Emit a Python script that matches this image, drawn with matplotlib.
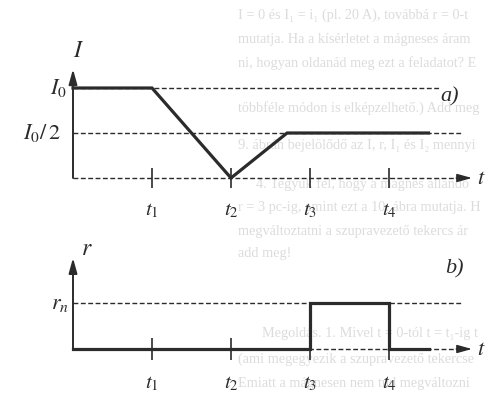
import matplotlib.pyplot as plt

plt.rcParams['mathtext.fontset'] = 'stix'

# time marks on both diagrams
t_marks = [1, 2, 3, 4]
t_labels = [r'$t_1$', r'$t_2$', r'$t_3$', r'$t_4$']

# a) current I(t), in units of I0
I_t = [0, 1, 2, 2.71, 4.5]
I_val = [1, 1, 0, 0.5, 0.5]
I_levels = [1, 0.5]
I_level_ends = [4.65, 4.94]

# b) resistance r(t), in units of r_n
r_t = [0, 3, 3, 4, 4, 4.5]
r_val = [0, 0, 1, 1, 0, 0]

# text of the page showing through from behind
page_lines = [
    "I = 0 és I₁ = i₁ (pl. 20 A), továbbá r = 0-t",
    "mutatja. Ha a kísérletet a mágneses áram",
    "ni, hogyan oldanád meg ezt a feladatot? E",
    "többféle módon is elképzelhető.) Add meg",
    "9. ábrán bejelölődő az I, r, I₁ és I₂ mennyi",
    "4. Tegyük fel, hogy a mágnes állandó",
    "r = 3 pc-ig, amint ezt a 10. ábra mutatja. H",
    "megváltoztatni a szupravezető tekercs ár",
    "add meg!",
    "Megoldás. 1. Mivel t = 0-tól t = t₁-ig t",
    "(ami megegyezik a szupravezető tekercse",
    "Emiatt a mágnesen nem tud megváltozni",
]
page_y = [15, 39, 63, 108, 146, 184, 208, 231, 254, 333, 359, 384]
page_x = [238, 238, 238, 238, 238, 256, 238, 238, 238, 262, 238, 238]

W, H = 488, 399
fig = plt.figure(figsize=(W / 100, H / 100), dpi=100)
fig.patch.set_facecolor('white')

for s, x, y in zip(page_lines, page_x, page_y):
    fig.text(x / W, 1 - y / H, s, fontsize=10.3, color='#dcdcdc', va='center',
             ha='left', family=['Liberation Serif', 'DejaVu Serif'], zorder=-5)

ink = '#2b2b2b'
dash = (0, (3.5, 1.8))
x0, ux = 73, 79


def band(top, bottom, zero, unit):
    ax = fig.add_axes([0, 1 - bottom / H, 1, (bottom - top) / H])
    ax.set_xlim(-x0 / ux, (W - x0) / ux)
    ax.set_ylim(-(bottom - zero) / unit, (zero - top) / unit)
    ax.axis('off')
    ax.patch.set_alpha(0)
    return ax


def arrow(ax, start, end, lw):
    ax.annotate('', xy=end, xytext=start,
                arrowprops=dict(arrowstyle='-|>,head_length=0.9,head_width=0.25',
                                color=ink, lw=lw, shrinkA=0, shrinkB=0))


serif = dict(color=ink, family=['Liberation Serif', 'DejaVu Serif'], style='italic')

# ---- a) ----
ax_a = band(0, 230, 178, 90)
ax_a.plot([0, 4.95], [0, 0], ls=dash, lw=1.0, color=ink)
arrow(ax_a, (4.85, 0), (5.05, 0), 1.0)
arrow(ax_a, (0, 0), (0, 1.21), 1.4)
for lvl, end in zip(I_levels, I_level_ends):
    ax_a.plot([0, end], [lvl, lvl], ls=dash, lw=1.0, color=ink)
ax_a.vlines(t_marks, -0.11, 0.11, color=ink, lw=1.2)
ax_a.plot(I_t, I_val, color=ink, lw=2.3, solid_joinstyle='miter', zorder=3)
for t, lab in zip(t_marks, t_labels):
    ax_a.text(t, -0.36, lab, fontsize=15, color=ink, ha='center', va='center')
ax_a.text(0.07, 1.42, r'$I$', fontsize=17, color=ink, ha='center', va='center')
ax_a.text(-0.19, 1.0, r'$I_0$', fontsize=16, color=ink, ha='center', va='center')
ax_a.text(-0.40, 0.5, r'$I_0/\,2$', fontsize=16, color=ink, ha='center', va='center')
ax_a.text(5.17, 0, r'$t$', fontsize=16, color=ink, ha='center', va='center')
ax_a.text(4.77, 0.9, 'a)', fontsize=16, ha='center', va='center', **serif)

# ---- b) ----
ax_b = band(230, 399, 349, 46)
ax_b.plot([0, 4.95], [0, 0], ls=dash, lw=1.0, color=ink)
arrow(ax_b, (4.85, 0), (5.05, 0), 1.0)
arrow(ax_b, (0, 0), (0, 1.98), 1.4)
ax_b.plot([0, 4.94], [1, 1], ls=dash, lw=1.0, color=ink)
ax_b.vlines(t_marks, -0.24, 0.24, color=ink, lw=1.2)
ax_b.plot(r_t, r_val, color=ink, lw=2.3, solid_joinstyle='miter', zorder=3)
for t, lab in zip(t_marks, t_labels):
    ax_b.text(t, -0.74, lab, fontsize=15, color=ink, ha='center', va='center')
ax_b.text(0.17, 2.2, r'$r$', fontsize=17, color=ink, ha='center', va='center')
ax_b.text(-0.17, 0.97, r'$r_n$', fontsize=16, color=ink, ha='center', va='center')
ax_b.text(5.17, 0, r'$t$', fontsize=16, color=ink, ha='center', va='center')
ax_b.text(4.83, 1.75, 'b)', fontsize=16, ha='center', va='center', **serif)

fig.savefig('out.png', dpi=100, facecolor='white')
